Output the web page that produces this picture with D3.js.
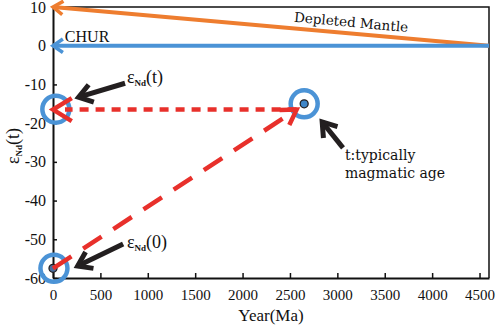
<!DOCTYPE html>
<html>
<head>
<meta charset="utf-8">
<script src="https://cdn.jsdelivr.net/npm/d3@7"></script>
<style>
  body { margin: 0; background: #fff; }
  svg text { font-family: "Liberation Serif", "Times New Roman", serif; fill: #111; }
  .note { font-family: "DejaVu Serif", serif; }
</style>
</head>
<body>
<div id="chart"></div>
<script>
// Data (Ma, epsilon Nd)
const xTicks = [0, 500, 1000, 1500, 2000, 2500, 3000, 3500, 4000, 4500];
const yTicks = [10, 0, -10, -20, -30, -40, -50, -60];
const depletedMantle = [[4600, 0], [0, 10]];
const chur = [[4600, 0], [0, 0]];
const samplePoint = [2650, -15];
const presentPoint = [0, -57.5];
const initialRing = [30, -16.4];
const presentRing = [10, -57.5];
const evolutionLine = [[0, -57.5], [2570, -16.5]];   // eNd(0) -> t
const backLine = [[2570, -16.5], [0, -16.5]];        // projected to eNd(t)
const noteArrows = [
    { from: [760, -9.7], to: [270, -13.3] },
    { from: [3060, -26.4], to: [2840, -19.7] },
    { from: [740, -51.2], to: [260, -56.9] }
];

const W = 498, H = 329;
const x = d3.scaleLinear().domain([0, 4600]).range([53, 489]);
const y = d3.scaleLinear().domain([-60, 10]).range([278, 7]);

const svg = d3.select('#chart').append('svg')
    .attr('width', W).attr('height', H);

const orange = '#ee7d2f', blue = '#4b93d6', red = '#e8302b', dark = '#231f20';

// frame (top / right)
svg.append('path')
    .attr('d', `M${x(0)},${y(10)}H${x(4600)}V${y(-60)}`)
    .attr('fill', 'none').attr('stroke', '#111').attr('stroke-width', 1.5);

// axes
const xAxis = svg.append('g')
    .attr('transform', `translate(0,${y(-60)})`)
    .call(d3.axisBottom(x).tickValues(xTicks).tickFormat(d => String(d))
        .tickSizeInner(-5).tickSizeOuter(0).tickPadding(11));
const yAxis = svg.append('g')
    .attr('transform', `translate(${x(0)},0)`)
    .call(d3.axisLeft(y).tickValues(yTicks).tickFormat(d => String(d))
        .tickSizeInner(-4).tickSizeOuter(0).tickPadding(7));
[xAxis, yAxis].forEach(g => {
    g.select('.domain').attr('stroke', '#111').attr('stroke-width', 2);
    g.selectAll('.tick line').attr('stroke', '#111').attr('stroke-width', 1.5);
    g.selectAll('.tick text').style('font-family', '"Liberation Serif", serif').attr('fill', '#111');
});
xAxis.selectAll('.tick text').style('font-size', '15px');
yAxis.selectAll('.tick text').style('font-size', '16px');

// arrow helper: open chevron at b, pointing away from a (pixel coords)
function chevron(b, a, len, ang) {
    const th = Math.atan2(a[1] - b[1], a[0] - b[0]);
    const p1 = [b[0] + len * Math.cos(th + ang), b[1] + len * Math.sin(th + ang)];
    const p2 = [b[0] + len * Math.cos(th - ang), b[1] + len * Math.sin(th - ang)];
    return `M${p1}L${b}L${p2}`;
}
const px = d => [x(d[0]), y(d[1])];

// Depleted mantle and CHUR lines
[[depletedMantle, orange], [chur, blue]].forEach(([pts, c]) => {
    const a = px(pts[0]), b = px(pts[1]);
    svg.append('line')
        .attr('x1', a[0]).attr('y1', a[1]).attr('x2', b[0]).attr('y2', b[1])
        .attr('stroke', c).attr('stroke-width', 4);
    svg.append('path').attr('d', chevron(b, a, 12, 0.6))
        .attr('fill', 'none').attr('stroke', c).attr('stroke-width', 3.5);
});

// rings
[initialRing, presentRing, samplePoint].forEach(d => {
    svg.append('circle')
        .attr('cx', x(d[0])).attr('cy', y(d[1])).attr('r', 13.5)
        .attr('fill', 'none').attr('stroke', blue).attr('stroke-width', 4.5);
});

// points
svg.append('circle')
    .attr('cx', x(samplePoint[0])).attr('cy', y(samplePoint[1])).attr('r', 4)
    .attr('fill', '#3f86c8').attr('stroke', dark).attr('stroke-width', 1.3);
svg.append('circle')
    .attr('cx', x(presentPoint[0])).attr('cy', y(presentPoint[1])).attr('r', 4)
    .attr('fill', '#4a6fa0').attr('stroke', dark).attr('stroke-width', 1.3);

// red evolution line eNd(0) -> t
{
    const a = px(evolutionLine[0]), b = px(evolutionLine[1]);
    svg.append('line')
        .attr('x1', a[0]).attr('y1', a[1]).attr('x2', b[0]).attr('y2', b[1])
        .attr('stroke', red).attr('stroke-width', 4.5)
        .attr('stroke-dasharray', '22,14');
    svg.append('path').attr('d', chevron(b, a, 17, 0.55))
        .attr('fill', 'none').attr('stroke', red).attr('stroke-width', 4.5);
}
// red back-projection line
{
    const a = px(backLine[0]), b = px(backLine[1]);
    svg.append('line')
        .attr('x1', a[0]).attr('y1', a[1]).attr('x2', b[0] + 12).attr('y2', b[1])
        .attr('stroke', red).attr('stroke-width', 4.5)
        .attr('stroke-dasharray', '9,7');
    svg.append('path').attr('d', chevron(b, a, 22, 0.55))
        .attr('fill', 'none').attr('stroke', red).attr('stroke-width', 4.5);
}

// black annotation arrows
noteArrows.forEach(n => {
    const a = px(n.from), b = px(n.to);
    svg.append('line')
        .attr('x1', a[0]).attr('y1', a[1]).attr('x2', b[0]).attr('y2', b[1])
        .attr('stroke', dark).attr('stroke-width', 5);
    svg.append('path').attr('d', chevron(b, a, 16, 0.6))
        .attr('fill', 'none').attr('stroke', dark).attr('stroke-width', 5)
        .attr('stroke-linejoin', 'miter');
});

// labels
svg.append('text').attr('x', x(125)).attr('y', y(1)).style('font-size', '16px').text('CHUR');

const dmPos = px([2540, 6.2]);
svg.append('text').attr('class', 'note')
    .attr('transform', `translate(${dmPos}) rotate(5.2)`)
    .style('font-size', '13.5px').text('Depleted Mantle');

const tPos = px([3080, -29.5]);
svg.append('text').attr('class', 'note')
    .attr('x', tPos[0]).attr('y', tPos[1]).style('font-size', '14px').text('t:typically');
svg.append('text').attr('class', 'note')
    .attr('x', tPos[0]).attr('y', tPos[1] + 18).style('font-size', '14px').text('magmatic age');

function epsLabel(g, arg) {
    g.append('tspan').style('font-size', '18px').text('ε');
    g.append('tspan').attr('dy', 3).style('font-size', '9px').style('font-weight', 'bold').text('Nd');
    g.append('tspan').attr('dy', -3).style('font-size', '18px').text(`(${arg})`);
}
const e1 = px([780, -9.6]);
epsLabel(svg.append('text').attr('x', e1[0]).attr('y', e1[1]), 't');
const e2 = px([780, -52.2]);
epsLabel(svg.append('text').attr('x', e2[0]).attr('y', e2[1]), '0');

// axis titles
epsLabel(svg.append('text')
    .attr('transform', `translate(19,146) rotate(-90)`)
    .attr('text-anchor', 'middle'), 't');
svg.append('text')
    .attr('x', (x(0) + x(4600)) / 2).attr('y', 321)
    .attr('text-anchor', 'middle').style('font-size', '17px').text('Year(Ma)');
</script>
</body>
</html>
